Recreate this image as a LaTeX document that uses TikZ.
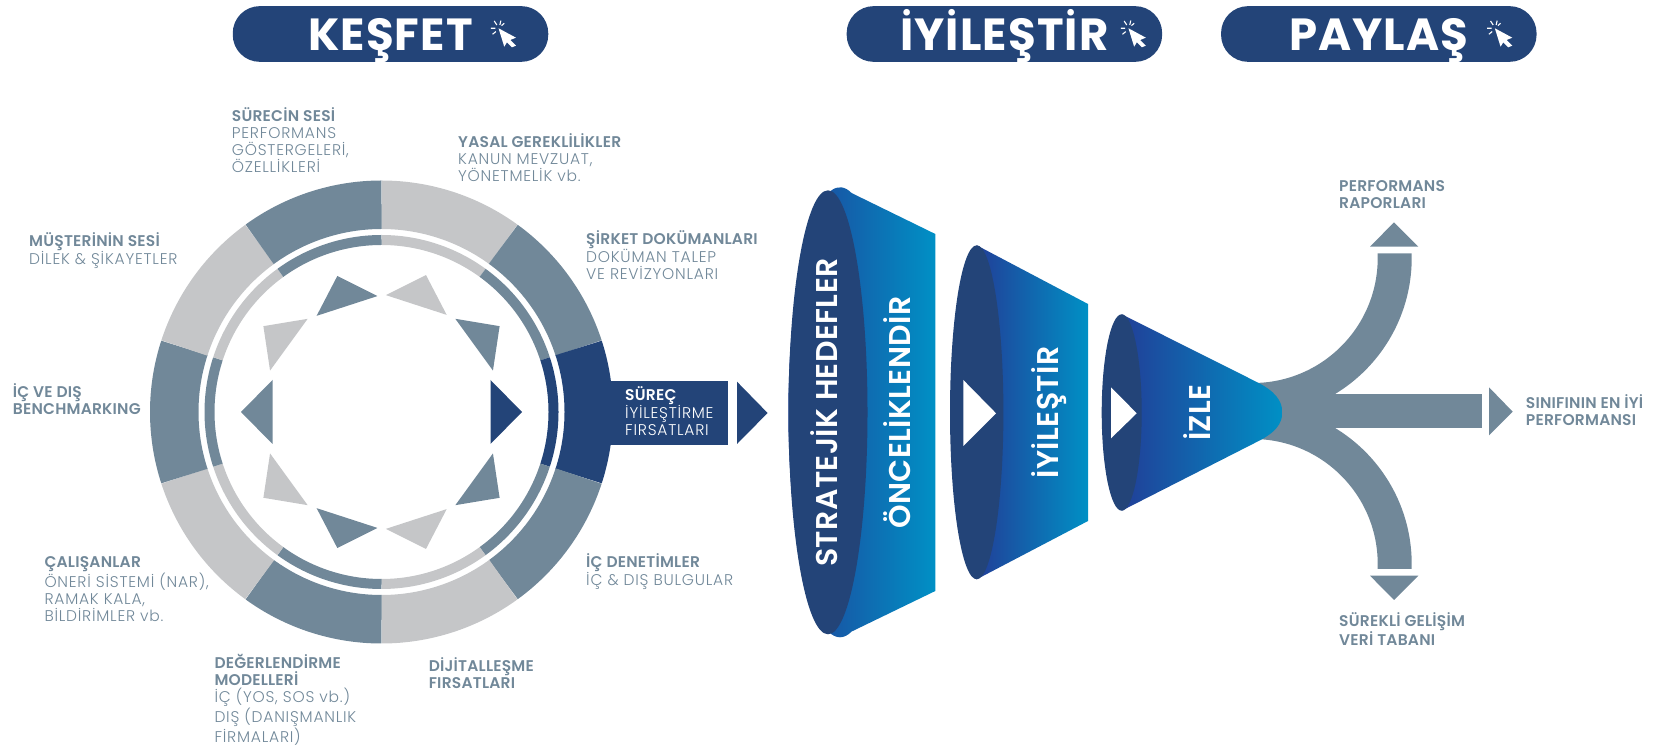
\documentclass[tikz,border=0pt]{standalone}
\usepackage{fontspec}
\setmainfont{Poppins Light}[BoldFont={Poppins SemiBold}, LetterSpace=5, BoldFeatures={LetterSpace=1.4}]
\newfontface\headfont{Poppins Bold}[LetterSpace=2.5]
\usetikzlibrary{positioning,calc}
\definecolor{navy}{HTML}{234478}
\definecolor{slate}{HTML}{718899}
\definecolor{silver}{HTML}{C5C6C8}
\definecolor{deepblue}{HTML}{213F98}
\definecolor{midblue}{HTML}{0060A5}
\definecolor{cyanblue}{HTML}{0090C5}
\tikzset{
    cursor/.pic={
        \fill[white] (0,0) -- (17.4,-9.4) -- (11.7,-11.7) -- (17.4,-17.4) -- (13.4,-19) -- (8.4,-14) -- (5.7,-18.4) -- cycle;
        \draw[white, line width=1.1pt] (-4.3,7.3) -- (-1.7,3.3) (2.3,7.7) -- (1.3,3.3) (5.7,5) -- (3,2.7) (-7.7,0) -- (-3.3,0) (-6,-6) -- (-2.7,-3.3);
    }
}

\begin{document}
\begin{tikzpicture}[x=1pt, y=1pt,
    pill/.style={fill=navy, rounded corners=27pt, minimum width=315.5pt, minimum height=55.7pt, inner sep=0pt, text height=32.3pt, text depth=0pt, text=white, font=\fontsize{45}{45}\headfont},
    note/.style={anchor=base west, inner sep=0pt, align=left, text=slate, font=\fontsize{15.5}{17.2}\selectfont},
    segarc/.style={line width=48.5pt},
    thinarc/.style={line width=10pt},
    funnel/.style={left color=deepblue, middle color=midblue, right color=cyanblue},
    lens/.style={fill=navy},
    spine/.style={rotate=90, anchor=base, inner sep=0pt, text=white, font=\fontsize{30}{30}\selectfont\bfseries},
    arm/.style={draw=slate, line width=34pt}]

\useasboundingbox (0,0) rectangle (1654,747);
\coordinate (cen) at (381.5,335);

% Header buttons
\node [pill] (kesfet) at (390.5,713) {KEŞFET};
\node [pill, right=298pt of kesfet] (iyilestir) {İYİLEŞTİR};
\node [pill, right=58.5pt of iyilestir] (paylas) {PAYLAŞ};
\pic at ([xshift=266pt, yshift=5.7pt]kesfet.west) {cursor};
\pic at ([xshift=282pt, yshift=5.7pt]iyilestir.west) {cursor};
\pic at ([xshift=274pt, yshift=5.7pt]paylas.west) {cursor};

% Wheel
\foreach \a/\col/\tip in {72/silver/144, 36/slate/146, 0/navy/140.5, -36/slate/146, -72/silver/144, -108/slate/143, -144/silver/146, 180/slate/140.5, 144/silver/146, 108/slate/143} {
    \draw [segarc, \col] ([shift={(cen)}]\a-18:207.25) arc[start angle=\a-18, end angle=\a+18, radius=207.25];
    \draw [thinarc, \col] ([shift={(cen)}]\a-18:172) arc[start angle=\a-18, end angle=\a+18, radius=172];
    \fill [\col, shift={(cen)}, rotate=\a] (\tip-31.5,32) -- (\tip,0) -- (\tip-31.5,-32) -- cycle;
}

% Way out of the wheel
\fill [navy] (600,302) rectangle (728,366);
\fill [navy] (737,365.3) -- (767.6,334) -- (737,303) -- cycle;
\node [note, text=white] (surec) at (625,311) {\textbf{SÜREÇ}\\İYİLEŞTİRME\\FIRSATLARI};

% Wheel labels
\node [note] (sesi) at (231.7,574.3) {\textbf{SÜRECİN SESİ}\\PERFORMANS\\GÖSTERGELERİ,\\ÖZELLİKLERİ};
\node [note] (yasal) at (458,565.3) {\textbf{YASAL GEREKLİLİKLER}\\KANUN MEVZUAT,\\YÖNETMELİK vb.};
\node [note] (sirket) at (586,467) {\textbf{ŞİRKET DOKÜMANLARI}\\DOKÜMAN TALEP\\VE REVİZYONLARI};
\node [note] (musteri) at (29,482) {\textbf{MÜŞTERİNİN SESİ}\\DİLEK \& ŞİKAYETLER};
\node [note] (bench) at (12.7,332) {\textbf{İÇ VE DIŞ}\\\textbf{BENCHMARKING}};
\node [note] (denetim) at (586,161.7) {\textbf{İÇ DENETİMLER}\\İÇ \& DIŞ BULGULAR};
\node [note] (calisan) at (44.3,125) {\textbf{ÇALIŞANLAR}\\ÖNERİ SİSTEMİ (NAR),\\RAMAK KALA,\\BİLDİRİMLER vb.};
\node [note] (model) at (214.3,5) {\textbf{DEĞERLENDİRME}\\\textbf{MODELLERİ}\\İÇ (YOS, SOS vb.)\\DIŞ (DANIŞMANLIK\\FİRMALARI)};
\node [note] (dijital) at (428.6,58.7) {\textbf{DİJİTALLEŞME}\\\textbf{FIRSATLARI}};

% Arms behind the last funnel
\coordinate (hubtop) at (1245,347);
\coordinate (hubmid) at (1245,336);
\coordinate (hubbot) at (1245,325);
\coordinate (raporend) at (1394.7,493.7);
\coordinate (sinifend) at (1482,336);
\coordinate (veriend) at (1394.7,178);
\draw [arm] (hubtop) -- ++(7.7,0) arc[start angle=-90, end angle=0, radius=142] -- (raporend);
\draw [arm, line width=33.4pt] (hubmid) -- (sinifend);
\draw [arm] (hubbot) -- ++(7.7,0) arc[start angle=90, end angle=0, radius=142] -- (veriend);
\fill [slate] (1370,500.3) -- (1394,524.7) -- (1418.3,500.3) -- cycle;
\fill [slate] (1489,359.7) -- (1512.7,335.3) -- (1489,311.7) -- cycle;
\fill [slate] (1370,171.3) -- (1394,147) -- (1418.3,171.3) -- cycle;

% Funnels
\shade [funnel] (840,334.7) ++(77:51.7 and 225) arc[start angle=77, end angle=283, x radius=51.7, y radius=225] -- (935.3,156) -- (935.3,513) -- cycle;
\fill [lens] (828,334.7) ellipse [x radius=39.5, y radius=222];
\shade [funnel] (976.7,501.7) -- (1088,443) -- (1088,226) -- (976.7,167.7) -- cycle;
\fill [lens] (976.7,334.7) ellipse [x radius=26.7, y radius=167];
\shade [funnel] (1121.7,432.7) -- (1256.7,365) .. controls (1275,356) and (1282.3,346) .. (1282.3,334.7) .. controls (1282.3,323) and (1275,314) .. (1256.7,305) -- (1121.7,236.3) -- cycle;
\fill [lens] (1121.7,334.5) ellipse [x radius=20, y radius=98.2];
\fill [white] (963.3,367) -- (996,333.7) -- (963.3,301) -- cycle;
\fill [white] (1111,359.7) -- (1136.7,333.7) -- (1111,308.7) -- cycle;

\node [spine] (hedef) at (837.3,334.5) {STRATEJİK HEDEFLER};
\node [spine] (oncelik) at (910.7,334.5) {ÖNCELİKLENDİR};
\node [spine] (iyiles) at (1058.3,334.5) {İYİLEŞTİR};
\node [spine] (izle) at (1210,334.5) {İZLE};

% Arm labels
\node [note] (rapor) at (1339,538.7) {\textbf{PERFORMANS}\\\textbf{RAPORLARI}};
\node [note] (sinif) at (1525.7,321.7) {\textbf{SINIFININ EN İYİ}\\\textbf{PERFORMANSI}};
\node [note] (veri) at (1339,101) {\textbf{SÜREKLİ GELİŞİM}\\\textbf{VERİ TABANI}};

\end{tikzpicture}
\end{document}
